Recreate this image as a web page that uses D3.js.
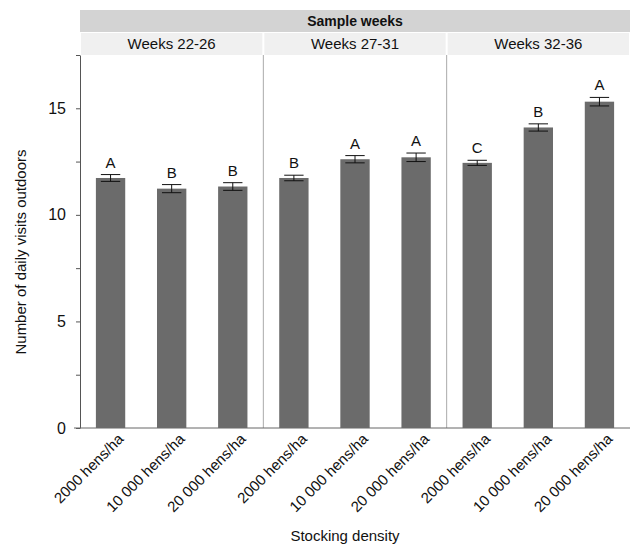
<!DOCTYPE html>
<html>
<head>
<meta charset="utf-8">
<script src="https://cdn.jsdelivr.net/npm/d3@7"></script>
<style>
  body { margin: 0; background: #fff; }
  text { font-family: "Liberation Sans", Arial, sans-serif; fill: #111; }
</style>
</head>
<body>
<div id="chart"></div>
<script>
// data
var periods = ["Weeks 22-26", "Weeks 27-31", "Weeks 32-36"];
var densities = ["2000 hens/ha", "10 000 hens/ha", "20 000 hens/ha"];
var means = [
  [11.73, 11.23, 11.33],
  [11.73, 12.61, 12.70],
  [12.44, 14.10, 15.31]
];
var errors = [
  [0.16, 0.19, 0.18],
  [0.13, 0.17, 0.20],
  [0.12, 0.17, 0.20]
];
var letters = [
  ["A", "B", "B"],
  ["B", "A", "A"],
  ["C", "B", "A"]
];
var yTicks = [0, 5, 10, 15];

var data = [];
periods.forEach(function(p, i) {
  densities.forEach(function(d, j) {
    data.push({period: p, density: d, mean: means[i][j], se: errors[i][j], letter: letters[i][j]});
  });
});

var W = 631, H = 547;
var pLeft = 80, pRight = 630, pTop = 55, pBottom = 428;

var svg = d3.select("#chart").append("svg")
  .attr("width", W)
  .attr("height", H);

var xPanel = d3.scaleBand().domain(periods).range([pLeft, pRight]);
var xBar = d3.scaleBand().domain(densities).range([0, xPanel.bandwidth()]).paddingInner(0.52).paddingOuter(0.26);
var y = d3.scaleLinear().domain([0, 17.5]).range([pBottom, pTop]);

// strips
svg.append("rect")
  .attr("x", pLeft).attr("y", 10).attr("width", pRight - pLeft).attr("height", 22)
  .attr("fill", "#d3d3d3");
svg.append("text")
  .attr("x", (pLeft + pRight) / 2).attr("y", 26)
  .attr("text-anchor", "middle")
  .style("font-size", "14px").style("font-weight", "bold")
  .text("Sample weeks");

periods.forEach(function(p) {
  svg.append("rect")
    .attr("x", xPanel(p) + 1).attr("y", 33).attr("width", xPanel.bandwidth() - 2).attr("height", 22)
    .attr("fill", "#f0f0f0");
  svg.append("text")
    .attr("x", xPanel(p) + xPanel.bandwidth() / 2).attr("y", 49)
    .attr("text-anchor", "middle")
    .style("font-size", "15px")
    .text(p);
});

// panel dividers
periods.slice(1).forEach(function(p) {
  svg.append("line")
    .attr("x1", xPanel(p)).attr("x2", xPanel(p))
    .attr("y1", pTop).attr("y2", pBottom)
    .attr("stroke", "#aaa").attr("stroke-width", 1);
});

// y axis
var yAxis = svg.append("g")
  .attr("transform", "translate(" + pLeft + ",0)")
  .call(d3.axisLeft(y).tickValues(d3.range(0, 17.6, 2.5)).tickSize(4).tickSizeOuter(0)
    .tickFormat(function(d) { return yTicks.indexOf(d) >= 0 ? d : ""; }));
yAxis.select(".domain").attr("stroke", "#555");
yAxis.selectAll(".tick line").attr("stroke", "#555");
yAxis.selectAll("text").style("font-size", "16px").attr("x", -14);

// baseline
svg.append("line")
  .attr("x1", pLeft - 6).attr("x2", pRight)
  .attr("y1", y(0)).attr("y2", y(0))
  .attr("stroke", "#666");

// bars
var g = svg.append("g");
var bx = function(d) { return xPanel(d.period) + xBar(d.density); };
var bw = xBar.bandwidth();

g.selectAll("rect.bar")
  .data(data)
  .enter()
  .append("rect")
    .attr("class", "bar")
    .attr("x", bx)
    .attr("y", function(d) { return y(d.mean); })
    .attr("width", bw)
    .attr("height", function(d) { return y(0) - y(d.mean); })
    .attr("fill", "#6b6b6b");

// error bars
var cap = bw * 0.33;
data.forEach(function(d) {
  var cx = bx(d) + bw / 2;
  g.append("line").attr("x1", cx).attr("x2", cx)
    .attr("y1", y(d.mean + d.se)).attr("y2", y(d.mean - d.se))
    .attr("stroke", "#111");
  [d.mean + d.se, d.mean - d.se].forEach(function(v) {
    g.append("line").attr("x1", cx - cap).attr("x2", cx + cap)
      .attr("y1", y(v)).attr("y2", y(v))
      .attr("stroke", "#111");
  });
  g.append("text")
    .attr("x", cx).attr("y", y(d.mean + d.se) - 7)
    .attr("text-anchor", "middle")
    .style("font-size", "15px")
    .text(d.letter);
});

// x labels
data.forEach(function(d) {
  var cx = bx(d) + bw / 2 + 6;
  svg.append("text")
    .attr("transform", "translate(" + cx + "," + (pBottom + 4) + ") rotate(-45)")
    .attr("text-anchor", "end")
    .attr("dy", "0.75em")
    .style("font-size", "15px")
    .text(d.density);
});

// axis titles
svg.append("text")
  .attr("transform", "translate(26,252) rotate(-90)")
  .attr("text-anchor", "middle")
  .style("font-size", "15px")
  .text("Number of daily visits outdoors");

svg.append("text")
  .attr("x", 345).attr("y", 541)
  .attr("text-anchor", "middle")
  .style("font-size", "15px")
  .text("Stocking density");
</script>
</body>
</html>
